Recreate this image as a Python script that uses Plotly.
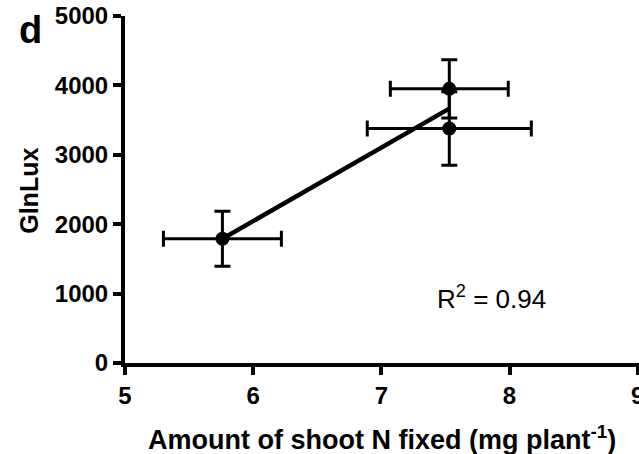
import numpy as np
import plotly.graph_objects as go

# Data
shoot_n = [5.76, 7.53, 7.53]          # Amount of shoot N fixed (mg plant-1)
shoot_n_err = [0.46, 0.46, 0.64]
glnlux = [1790, 3950, 3380]           # GlnLux
glnlux_err = [395, 420, 530]
r2_text = "R<sup>2</sup> = 0.94"
x_ticks = [5, 6, 7, 8, 9]
y_ticks = [0, 1000, 2000, 3000, 4000, 5000]
x_title = "Amount of shoot N fixed (mg plant<sup>-1</sup>)"
y_title = "GlnLux"
panel_label = "d"

FONT = "Arial, 'Liberation Sans', sans-serif"

# Linear regression fit through the points
slope, intercept = np.polyfit(shoot_n, glnlux, 1)
fit_x = [min(shoot_n), max(shoot_n)]
fit_y = [slope * v + intercept for v in fit_x]

fig = go.Figure()
fig.add_trace(go.Scatter(
    x=fit_x, y=fit_y, mode="lines",
    line=dict(color="black", width=4.5),
    showlegend=False, hoverinfo="skip",
))
fig.add_trace(go.Scatter(
    x=shoot_n, y=glnlux, mode="markers",
    marker=dict(color="black", size=14),
    error_x=dict(type="data", array=shoot_n_err, color="black", thickness=3, width=8),
    error_y=dict(type="data", array=glnlux_err, color="black", thickness=3, width=8),
    showlegend=False,
))

fig.add_annotation(
    x=7.86, y=950, xref="x", yref="y", text=r2_text, showarrow=False,
    xanchor="center", yanchor="middle",
    font=dict(family=FONT, size=26, color="black"),
)
fig.add_annotation(
    x=-0.183, y=0.96, xref="paper", yref="paper", text=panel_label, showarrow=False,
    xanchor="center", yanchor="middle",
    font=dict(family=FONT, size=38, color="black", weight="bold"),
)
fig.add_annotation(
    x=0.5, y=-0.216, xref="paper", yref="paper", text=x_title, showarrow=False,
    yanchor="middle", xanchor="center",
    font=dict(family=FONT, size=27, color="black", weight="bold"),
)
fig.add_annotation(
    x=-0.187, y=0.496, xref="paper", yref="paper", text=y_title, showarrow=False,
    textangle=-90, yanchor="middle", xanchor="center",
    font=dict(family=FONT, size=25, color="black", weight="bold"),
)

fig.update_layout(
    width=639, height=454,
    margin=dict(l=125, r=0, t=16, b=91, autoexpand=False),
    paper_bgcolor="white", plot_bgcolor="white",
    font=dict(family=FONT, color="black"),
    xaxis=dict(
        range=[5, 9.01], tickvals=x_ticks, ticktext=[str(v) for v in x_ticks],
        showline=True, linewidth=4, linecolor="black",
        ticks="outside", ticklen=8, tickwidth=4, tickcolor="black",
        showgrid=False, zeroline=False, automargin=False,
        ticklabeloverflow="allow",
        tickfont=dict(family=FONT, size=24, color="black", weight="bold"),
    ),
    yaxis=dict(
        range=[0, 5000], tickvals=y_ticks, ticktext=[str(v) for v in y_ticks],
        showline=True, linewidth=4, linecolor="black",
        ticks="outside", ticklen=8, tickwidth=4, tickcolor="black",
        showgrid=False, zeroline=False, automargin=False,
        ticklabeloverflow="allow",
        tickfont=dict(family=FONT, size=24, color="black", weight="bold"),
    ),
)

fig.write_html(
    "out.html",
    config={"displayModeBar": False},
    post_script="document.body.style.margin='0px';document.body.style.overflow='hidden';",
)
